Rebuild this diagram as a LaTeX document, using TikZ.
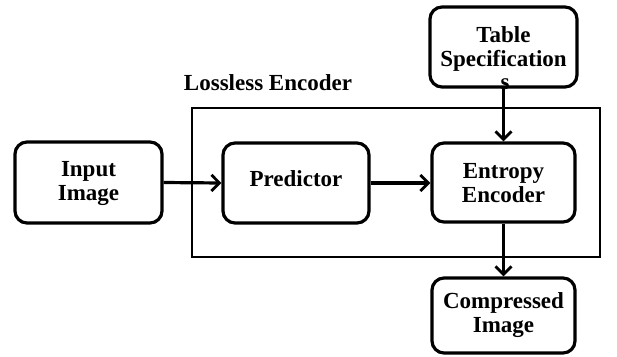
\documentclass[tikz,border=0pt]{standalone}
\usepackage{fontspec}
\setmainfont{Liberation Serif}
\usetikzlibrary{arrows.meta}
\begin{document}
\begin{tikzpicture}[x=1pt,y=-1pt,
  blk/.style={draw, line width=3.2pt, rounded corners=12pt, inner sep=0pt},
  lbl/.style={font=\fontsize{23}{24}\selectfont\bfseries, align=center},
  arr/.style={line width=3.2pt, -{Straight Barb[length=8pt,width=16pt,line width=2.8pt]}}]
\useasboundingbox (0,0) rectangle (617,356);
\node[draw, line width=2pt, minimum width=408pt, minimum height=149pt, inner sep=0pt] (enc) at (396,182.5) {};
\node[lbl] (enclbl) at (268,83) {Lossless Encoder};
\node[blk, minimum width=147pt, minimum height=81pt] (in) at (88.5,182.5) {};
\node[lbl] at ([yshift=-1pt]in) {Input\\Image};
\node[blk, minimum width=146pt, minimum height=80pt] (pred) at (296,183) {};
\node[lbl] at ([yshift=4pt]pred) {Predictor};
\node[blk, minimum width=143pt, minimum height=79pt] (ent) at (503.5,182.5) {};
\node[lbl] at ([yshift=-1pt]ent) {Entropy\\Encoder};
\node[blk, minimum width=147pt, minimum height=80pt] (tab) at (503.5,47) {};
\node[lbl] at ([yshift=-2pt]tab) {Table\\Specification};
\node[font=\fontsize{23}{24}\selectfont\bfseries, inner sep=0pt] (tabs) at (505,84) {s};
\node[blk, minimum width=143pt, minimum height=75pt] (comp) at (503.5,315.5) {};
\node[lbl] at (comp) {Compressed\\Image};
\draw[arr] (in.east) -- (pred.west);
\draw[arr] (pred.east) -- (pred.east -| ent.west);
\draw[arr] (tab.south) -- (ent.north);
\draw[arr] (ent.south) -- (comp.north);
\end{tikzpicture}
\end{document}
